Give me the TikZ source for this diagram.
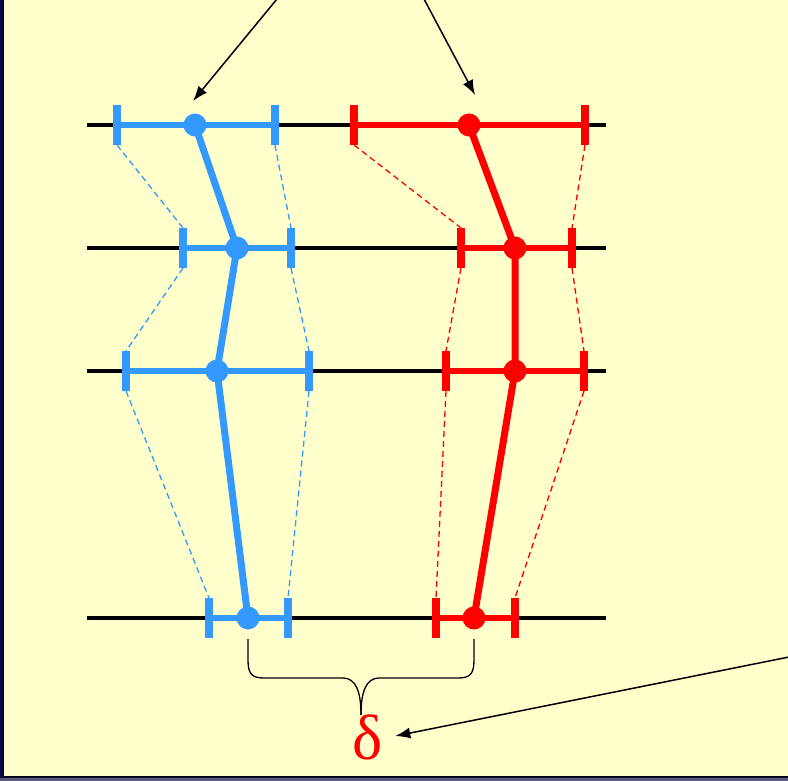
\documentclass[tikz,border=0pt]{standalone}
\usepackage{fontspec}
\setmainfont{Liberation Serif}
\usepackage{tikz}
\usetikzlibrary{arrows.meta, positioning, calc}

\definecolor{slideyellow}{HTML}{FFFFCC}
\definecolor{slidenavy}{HTML}{0A0A40}
\definecolor{slidegrey}{HTML}{5A5A78}
\definecolor{estblue}{HTML}{3399FF}
\definecolor{estred}{HTML}{FF0000}

\tikzset{
  axis/.style={line width=4pt, black},
  bar/.style={line width=6.5pt},
  tick/.style={line width=8pt},
  trace/.style={line width=7pt, line join=round},
  gap/.style={line width=1.3pt, dash pattern=on 6pt off 4pt},
  dot/.style={circle, fill, inner sep=0pt, minimum size=23pt},
  brace/.style={line width=1.3pt, black},
  pointer/.style={line width=1.5pt, black, -{Latex[length=15pt,width=11pt]}},
  deltalabel/.style={text=estred, font=\fontsize{64}{64}\selectfont, inner sep=0pt}
}

\begin{document}
\begin{tikzpicture}[x=1pt,y=-1pt]
  \useasboundingbox (0,0) rectangle (788,781);
  % slide frame
  \fill[slidenavy] (0,0) rectangle (788,781);
  \fill[slidegrey] (0,778) rectangle (788,781);
  \fill[slideyellow] (4,0) rectangle (788,776);
  \draw[line width=1pt] (3.5,0) -- (3.5,776.5) -- (788,776.5);

  % axes
  \foreach \y in {125,248,371,618}
    \draw[axis] (87,\y) -- (606,\y);

  % blue estimates
  \foreach \n/\y/\l/\m/\r in {1/125/117/195/275, 2/248/183/237/291, 3/371/126/217/309, 4/618/209/248/288} {
    \coordinate (bl\n) at (\l,\y);
    \coordinate (br\n) at (\r,\y);
    \coordinate (blt\n) at (\l,\y-20);
    \coordinate (blb\n) at (\l,\y+20);
    \coordinate (brt\n) at (\r,\y-20);
    \coordinate (brb\n) at (\r,\y+20);
    \draw[estblue, bar] (bl\n) -- (br\n);
    \draw[estblue, tick] (blt\n) -- (blb\n);
    \draw[estblue, tick] (brt\n) -- (brb\n);
    \node[dot, estblue] (b\n) at (\m,\y) {};
  }

  % red estimates
  \foreach \n/\y/\l/\m/\r in {1/125/354/469/585, 2/248/461/515/572, 3/371/446/515/584, 4/618/436/474/515} {
    \coordinate (rl\n) at (\l,\y);
    \coordinate (rr\n) at (\r,\y);
    \coordinate (rlt\n) at (\l,\y-20);
    \coordinate (rlb\n) at (\l,\y+20);
    \coordinate (rrt\n) at (\r,\y-20);
    \coordinate (rrb\n) at (\r,\y+20);
    \draw[estred, bar] (rl\n) -- (rr\n);
    \draw[estred, tick] (rlt\n) -- (rlb\n);
    \draw[estred, tick] (rrt\n) -- (rrb\n);
    \node[dot, estred] (r\n) at (\m,\y) {};
  }

  % dashed envelopes
  \foreach \a/\b in {1/2, 2/3, 3/4} {
    \draw[estblue, gap] (blb\a) -- (blt\b);
    \draw[estblue, gap] (brb\a) -- (brt\b);
    \draw[estred, gap] (rlb\a) -- (rlt\b);
    \draw[estred, gap] (rrb\a) -- (rrt\b);
  }

  % traces
  \draw[estblue, trace] (b1.center) -- (b2.center) -- (b3.center) -- (b4.center);
  \draw[estred, trace] (r1.center) -- (r2.center) -- (r3.center) -- (r4.center);

  % brace and delta
  \coordinate (bracel) at ($(b4)+(0,21)$);
  \coordinate (bracer) at ($(r4)+(0,21)$);
  \coordinate (bracetip) at (361,715);
  \draw[brace] (bracel) -- (248,660) .. controls (248,674) and (252,678) .. (264,678)
    -- (343,678) .. controls (356,678) and (361,692) .. (bracetip);
  \draw[brace] (bracer) -- (474,660) .. controls (474,674) and (470,678) .. (458,678)
    -- (379,678) .. controls (366,678) and (361,692) .. (bracetip);
  \node[deltalabel] (delta) at (368,737) {δ};

  % pointers
  \coordinate (fromleft) at (277,-1);
  \coordinate (fromright) at (424,-1);
  \coordinate (fromside) at (789,657);
  \coordinate (tipl) at (193,101);
  \coordinate (tipr) at (475,95);
  \draw[pointer] (fromleft) -- (tipl);
  \draw[pointer] (fromright) -- (tipr);
  \draw[pointer] (fromside) -- ([xshift=12pt,yshift=1pt]delta.east);
\end{tikzpicture}
\end{document}
